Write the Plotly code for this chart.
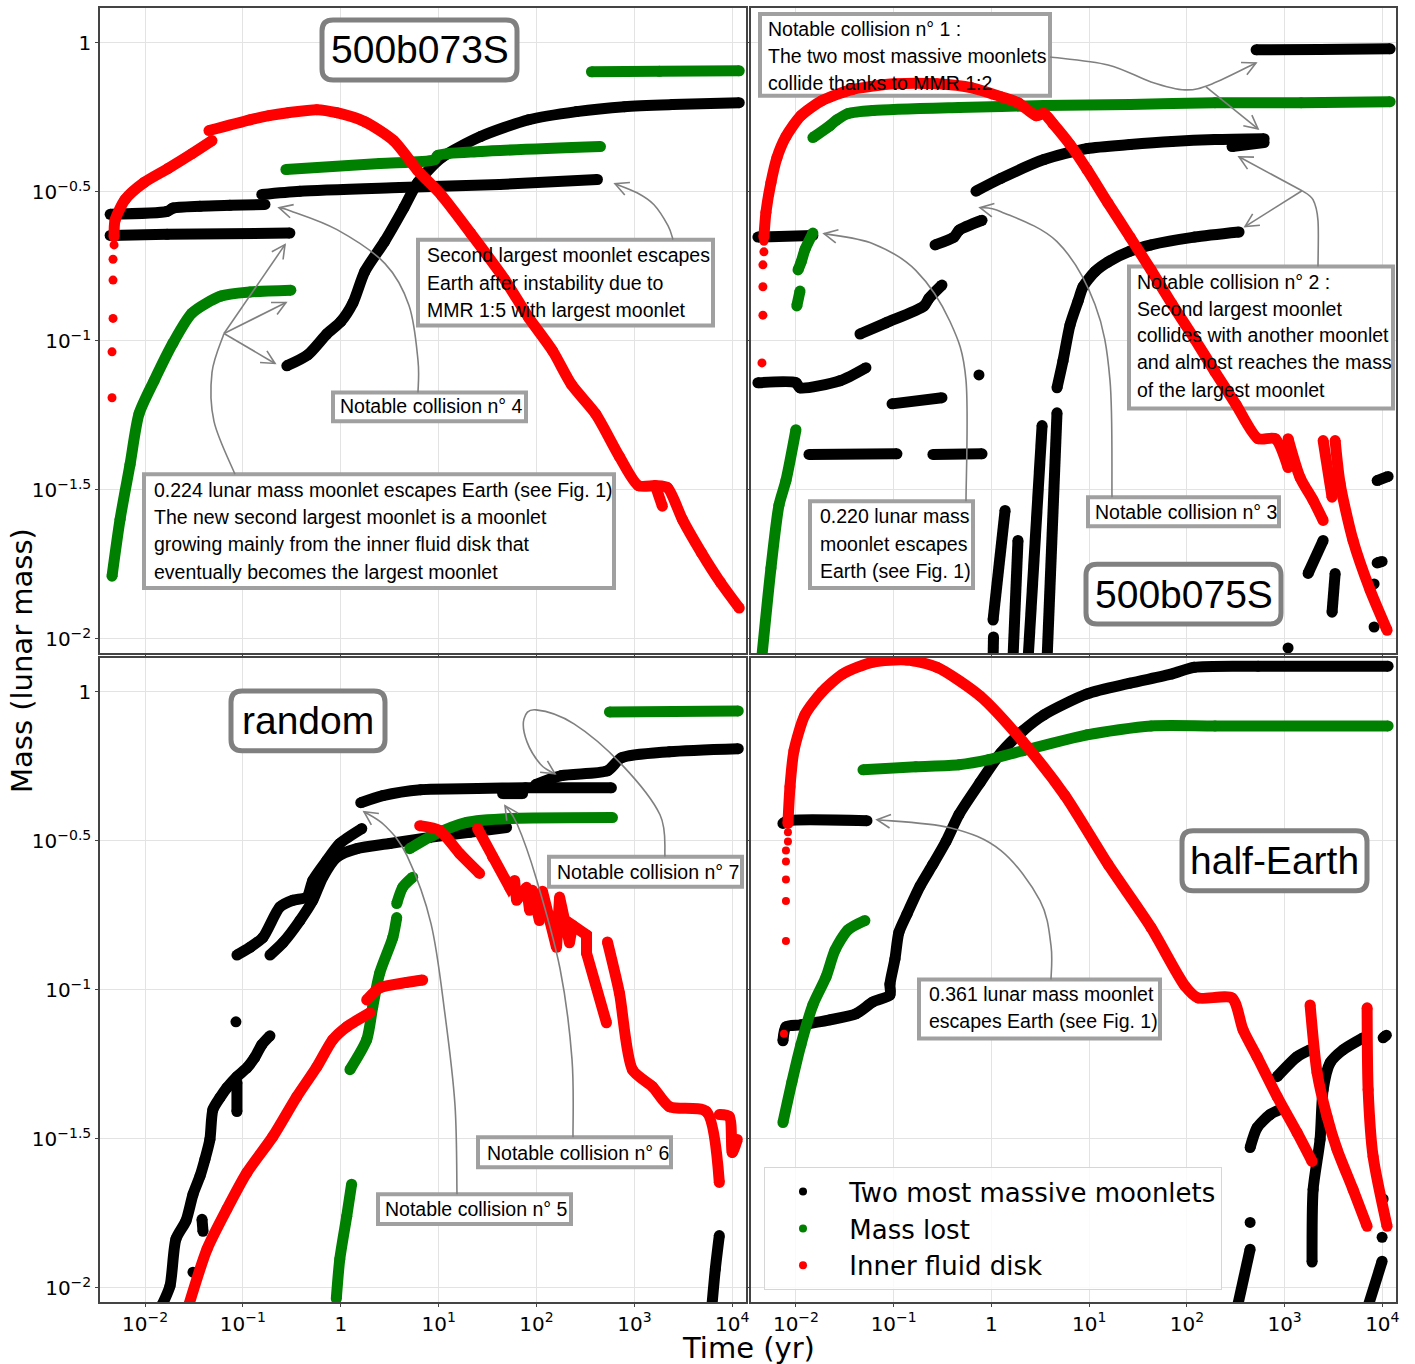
import math
import plotly.graph_objects as go

# ---------------- DATA (time in yr, mass in lunar masses) ----------------
# Panel 500b073S (top-left)
tl_black = [
    ([0.0044, 0.0168, 0.0193, 0.0364, 0.0736, 0.168], [0.266, 0.272, 0.279, 0.283, 0.285, 0.287]),
    ([0.0044, 0.0168, 0.302], [0.226, 0.228, 0.230]),
    ([0.156, 0.382, 4.0, 41.9, 419], [0.310, 0.318, 0.327, 0.335, 0.348]),
    ([0.281, 0.460, 0.720, 1.00, 1.33, 1.76, 2.81, 4.40, 6.11, 10.7, 26.8, 82.8, 256, 791, 2443, 11780],
     [0.0825, 0.0898, 0.1055, 0.116, 0.134, 0.171, 0.216, 0.279, 0.340, 0.412, 0.485, 0.552, 0.588, 0.611, 0.621, 0.630]),
]
tl_green = [
    ([0.0046, 0.00556, 0.00703, 0.00869, 0.01236, 0.0193, 0.0302, 0.0597, 0.118, 0.309],
     [0.01625, 0.0252, 0.0385, 0.0570, 0.0735, 0.0984, 0.124, 0.1415, 0.146, 0.148]),
    ([0.275, 2.50, 9.10, 9.77, 26.8, 450], [0.376, 0.394, 0.406, 0.419, 0.432, 0.449]),
    ([364, 1800, 11780], [0.800, 0.803, 0.806]),
]
tl_red_dots_t = [0.00483, 0.00471, 0.00471, 0.00471, 0.0046, 0.0046]
tl_red_dots_m = [0.210, 0.188, 0.160, 0.119, 0.0919, 0.0645]
tl_red = [
    ([0.00483, 0.00494, 0.00625, 0.00977, 0.0172, 0.0302, 0.0483], [0.224, 0.254, 0.298, 0.340, 0.379, 0.425, 0.470]),
    ([0.0450, 0.118, 0.184, 0.288, 0.569, 0.910, 1.76, 3.47, 6.11, 10.7, 21.2, 47.1, 82.8, 146, 228, 400, 703,
      1099, 1637, 2172, 3090, 4830, 7550, 11780],
     [0.508, 0.552, 0.570, 0.583, 0.597, 0.583, 0.544, 0.470, 0.373, 0.308, 0.230, 0.161, 0.120, 0.0926, 0.0713,
      0.0570, 0.0409, 0.0327, 0.0327, 0.0322, 0.0252, 0.0195, 0.0155, 0.0127]),
    ([1637, 1930], [0.0327, 0.0279]),
]

# Panel 500b075S (top-right)
tr_black = [
    ([511, 2307, 12020], [0.948, 0.950, 0.955]),
    ([0.695, 1.25, 3.45, 9.51, 26.2, 70.5, 194, 617], [0.318, 0.351, 0.406, 0.442, 0.456, 0.467, 0.474, 0.477]),
    ([290, 617], [0.449, 0.463]),
    ([4.69, 5.40, 6.37, 7.70, 8.66, 11.5, 15.6, 26.2, 43.0, 119, 342],
     [0.0696, 0.0857, 0.113, 0.136, 0.152, 0.171, 0.184, 0.200, 0.210, 0.223, 0.232]),
    ([1.38, 1.04], [0.0270, 0.01158]),
    ([1.05, 1.04], [0.01016, 0.0085]),
    ([1.87, 1.66], [0.0214, 0.0085]),
    ([3.30, 2.37], [0.0520, 0.0085]),
    ([4.69, 3.71], [0.0574, 0.0085]),
    ([0.00408, 0.0149], [0.223, 0.226]),
    ([0.265, 0.414, 0.466, 0.802], [0.210, 0.223, 0.235, 0.254]),
    ([0.0452, 0.0834, 0.204, 0.230, 0.312], [0.1055, 0.115, 0.131, 0.139, 0.154]),
    ([0.00408, 0.0100, 0.0110, 0.0282, 0.052], [0.0724, 0.0724, 0.0696, 0.0735, 0.0813]),
    ([0.746], [0.0769]),
    ([0.0962, 0.312], [0.0615, 0.0645]),
    ([0.0136, 0.108], [0.0416, 0.0418]),
    ([0.252, 0.802], [0.0416, 0.0418]),
    ([8850, 11460], [0.0340, 0.0351]),
    ([1740, 2480], [0.0166, 0.0214]),
    ([3060, 3290], [0.0123, 0.0166]),
    ([8850, 9950], [0.0180, 0.0182]),
    ([8240], [0.0153]),
    ([8240], [0.01097]),
    ([1086], [0.00933]),
]
tr_green = [
    ([0.00449, 0.00555, 0.00670, 0.0079, 0.0100], [0.0088, 0.0173, 0.0281, 0.0340, 0.0504]),
    ([0.0102, 0.0110], [0.131, 0.147]),
    ([0.0105, 0.0113, 0.0124, 0.0149], [0.173, 0.184, 0.203, 0.230]),
    ([0.0149, 0.0223, 0.0263, 0.034, 0.0614, 0.466, 3.45, 26.2, 194, 1476, 12020],
     [0.481, 0.528, 0.552, 0.579, 0.593, 0.607, 0.616, 0.621, 0.630, 0.630, 0.635]),
]
tr_red_dots_t = [0.00449, 0.00459, 0.00459, 0.00459, 0.0047, 0.0047]
tr_red_dots_m = [0.0844, 0.122, 0.152, 0.180, 0.199, 0.216]
tr_red = [
    ([0.0047, 0.00493, 0.00555, 0.00639, 0.0079, 0.01124, 0.01845, 0.0374, 0.103, 0.277, 0.632, 1.25, 1.87, 2.86,
      3.45, 4.27, 6.37, 9.51, 15.6, 26.2, 43.0, 70.5, 119, 194, 319, 535, 800, 1086],
     [0.223, 0.270, 0.340, 0.412, 0.485, 0.570, 0.640, 0.697, 0.729, 0.729, 0.707, 0.660, 0.630, 0.570, 0.579,
      0.536, 0.456, 0.376, 0.290, 0.223, 0.173, 0.133, 0.102, 0.0788, 0.0611, 0.0470, 0.0470, 0.0376]),
    ([1086, 1442, 1959, 2480], [0.0470, 0.0348, 0.0292, 0.0250]),
    ([2480, 3060], [0.0463, 0.0299]),
    ([3290, 3700, 5020, 7500, 11190], [0.0463, 0.0332, 0.0214, 0.0146, 0.0107]),
]

# Panel random (bottom-left)
bl_black = [
    ([1.60, 2.69, 6.55, 25.0, 77.2, 582], [0.425, 0.449, 0.470, 0.474, 0.477, 0.477]),
    ([45.0, 72.0], [0.456, 0.456]),
    ([97.7, 180, 530, 736, 2277, 11510], [0.489, 0.524, 0.544, 0.601, 0.630, 0.645]),
    ([0.0869, 0.118, 0.160, 0.239, 0.324, 0.450, 0.518, 0.720, 0.977, 1.64],
     [0.131, 0.139, 0.150, 0.190, 0.200, 0.205, 0.233, 0.272, 0.310, 0.348]),
    ([0.189, 0.256, 0.382, 0.518, 0.655, 0.910, 1.46, 3.16, 8.09, 20.7, 49.4],
     [0.131, 0.144, 0.171, 0.200, 0.239, 0.279, 0.298, 0.310, 0.325, 0.338, 0.351]),
    ([0.0150, 0.0180, 0.0207, 0.0262, 0.0309, 0.0364, 0.0409, 0.046, 0.0494, 0.0582, 0.0687, 0.0869, 0.110,
      0.132, 0.156, 0.189],
     [0.0088, 0.01016, 0.0146, 0.0168, 0.0206, 0.0237, 0.0270, 0.0315, 0.0397, 0.0435, 0.0470, 0.0512, 0.0548,
      0.0593, 0.0655, 0.0702]),
    ([0.0849], [0.0782]),
    ([0.0309], [0.0113]),
    ([0.0382, 0.0391], [0.0170, 0.0155]),
    ([0.0869, 0.0869], [0.0489, 0.0391]),
    ([6150, 6710, 7370], [0.0085, 0.0116, 0.0150]),
]
bl_green = [
    ([556, 2500, 11510], [0.857, 0.860, 0.864]),
    ([5.06, 8.69, 19.3, 53.0, 597], [0.298, 0.330, 0.365, 0.376, 0.379]),
    ([1.24, 1.84, 2.12, 2.50, 3.40, 3.73], [0.0540, 0.0681, 0.0877, 0.114, 0.150, 0.175]),
    ([3.73, 4.29, 5.43], [0.195, 0.221, 0.239]),
    ([0.900, 0.977, 1.15, 1.29], [0.0092, 0.0125, 0.0174, 0.0223]),
]
bl_red = [
    ([0.0281, 0.0430, 0.0687, 0.110, 0.202, 0.356, 0.569, 0.828, 1.15, 1.98],
     [0.0088, 0.0135, 0.0184, 0.0244, 0.0322, 0.0439, 0.0552, 0.0681, 0.0752, 0.0838]),
    ([1.84, 2.50, 4.71, 6.87], [0.0926, 0.1016, 0.106, 0.108]),
    ([6.40, 10.2, 16.4, 26.2], [0.356, 0.343, 0.287, 0.246]),
    ([530, 703, 955, 1528, 2277, 5430, 7370], [0.145, 0.0976, 0.0540, 0.0474, 0.0406, 0.0391, 0.0226]),
    ([7370, 9310, 10000, 11250], [0.0382, 0.0376, 0.0285, 0.0315]),
]
bl_red_jagged = [
    ([25.0, 35.6, 53.0, 59.7, 62.5, 79.1, 84.9, 91.0, 107, 115, 160, 172, 217, 233, 324, 324, 518],
     [0.348, 0.279, 0.221, 0.233, 0.200, 0.221, 0.185, 0.216, 0.171, 0.2145, 0.139, 0.205, 0.144, 0.165, 0.153,
      0.133, 0.0776]),
]

# Panel half-Earth (bottom-right)
br_black = [
    ([0.00736, 0.0079, 0.01124, 0.0223, 0.0411, 0.0614, 0.0916, 0.0916, 0.103, 0.113, 0.137, 0.186, 0.252, 0.343,
      0.466, 0.764, 1.25, 2.10, 3.45, 9.51, 26.2, 70.5, 119, 535, 11460],
     [0.0675, 0.0752, 0.0764, 0.0794, 0.0832, 0.0912, 0.0962, 0.1047, 0.127, 0.156, 0.180, 0.223, 0.264, 0.315,
      0.388, 0.496, 0.625, 0.741, 0.838, 0.985, 1.07, 1.15, 1.21, 1.22, 1.22]),
    ([0.00736, 0.00828, 0.0533], [0.362, 0.370, 0.370]),
    ([838, 1343, 1824], [0.0512, 0.0597, 0.0630]),
    ([444, 523, 711, 899], [0.0296, 0.0345, 0.0382, 0.0397]),
    ([1910, 1959, 2307, 2480, 2923, 3970, 6360], [0.01222, 0.0214, 0.0315, 0.0463, 0.0570, 0.0630, 0.0691]),
    ([10190, 11000], [0.0691, 0.0705]),
    ([444], [0.0166]),
    ([325, 444], [0.0085, 0.0135]),
    ([7000, 9950], [0.0085, 0.0123]),
    ([9950], [0.0148]),
    ([10190], [0.0199]),
]
br_green = [
    ([0.0485, 0.169, 0.466, 0.944, 2.10, 9.51, 43.0, 194, 11460],
     [0.548, 0.561, 0.570, 0.593, 0.635, 0.718, 0.769, 0.769, 0.769]),
    ([0.00736, 0.0091, 0.01124, 0.0149, 0.0203, 0.0251, 0.034, 0.0508],
     [0.0359, 0.0492, 0.0655, 0.0891, 0.1105, 0.136, 0.159, 0.171]),
]
br_red_dots_t = [0.0079, 0.0079, 0.0079, 0.0079, 0.0079, 0.00828, 0.00828, 0.00754]
br_red_dots_m = [0.146, 0.199, 0.235, 0.270, 0.294, 0.315, 0.338, 0.0713]
br_red = [
    ([0.00828, 0.00869, 0.00954, 0.01236, 0.01845, 0.0303, 0.0614, 0.137, 0.277, 0.764, 2.10, 5.66, 15.6, 43.0,
      95.9, 130, 290, 376, 523, 838, 1343, 1910],
     [0.362, 0.481, 0.635, 0.838, 1.0, 1.15, 1.26, 1.28, 1.21, 0.970, 0.681, 0.449, 0.264, 0.162, 0.103, 0.0940,
      0.0940, 0.0735, 0.0597, 0.0439, 0.0332, 0.0266]),
    ([1824, 2150, 2720, 3440, 5020, 6990], [0.0891, 0.0528, 0.0376, 0.0292, 0.0214, 0.0161]),
    ([6990, 7160, 8050, 11190], [0.0871, 0.0463, 0.0276, 0.0161]),
]

x_tickvals = [1e-2, 1e-1, 1, 1e1, 1e2, 1e3, 1e4]
x_ticktext = ['10<sup>−2</sup>', '10<sup>−1</sup>', '1', '10<sup>1</sup>', '10<sup>2</sup>', '10<sup>3</sup>', '10<sup>4</sup>']
y_tickvals = [0.01, 0.0316228, 0.1, 0.316228, 1]
y_ticktext = ['10<sup>−2</sup>', '10<sup>−1.5</sup>', '10<sup>−1</sup>', '10<sup>−0.5</sup>', '1']
legend_names = ['Two most massive moonlets', 'Mass lost', 'Inner fluid disk']

# ---------------- LAYOUT GEOMETRY ----------------
W, H = 1415, 1364
ML, MR, MT, MB = 100, 19, 6, 62
PW, PH = W - ML - MR, H - MT - MB
XR = [-2.46, 4.14]
PANELS = {
    'tl': dict(x0=100, x1=746, y0=6, y1=652, xa='x', ya='y', yr=[-2.047, 0.117]),
    'tr': dict(x0=751, x1=1396, y0=6, y1=652, xa='x2', ya='y2', yr=[-2.047, 0.117]),
    'bl': dict(x0=100, x1=746, y0=657, y1=1302, xa='x3', ya='y3', yr=[-2.047, 0.114]),
    'br': dict(x0=751, x1=1396, y0=657, y1=1302, xa='x4', ya='y4', yr=[-2.047, 0.114]),
}

BLACK, GREEN, RED = '#000000', '#008000', '#ff0000'
GRAYBOX, GRAYTITLE, GRAYARROW = '#a0a0a0', '#808080', '#808080'
LW = 11


def seg_xy(segs):
    xs, ys = [], []
    for tt, mm in segs:
        xs += list(tt) + [None]
        ys += list(mm) + [None]
    return xs, ys


fig = go.Figure()


def add_series(panel, segs, color, shape='spline'):
    P = PANELS[panel]
    xs, ys = seg_xy(segs)
    line = dict(color=color, width=LW, shape=shape)
    if shape == 'spline':
        line['smoothing'] = 0.7
    fig.add_trace(go.Scatter(x=xs, y=ys, mode='lines+markers', connectgaps=False,
                             line=line, marker=dict(color=color, size=LW),
                             xaxis=P['xa'], yaxis=P['ya'], showlegend=False, hoverinfo='skip'))


def add_dots(panel, tt, mm, color, size=9):
    P = PANELS[panel]
    fig.add_trace(go.Scatter(x=tt, y=mm, mode='markers', marker=dict(color=color, size=size),
                             xaxis=P['xa'], yaxis=P['ya'], showlegend=False, hoverinfo='skip'))


add_series('tl', tl_black, BLACK)
add_series('tl', tl_green, GREEN)
add_dots('tl', tl_red_dots_t, tl_red_dots_m, RED)
add_series('tl', tl_red, RED)

add_series('tr', tr_black, BLACK)
add_series('tr', tr_green, GREEN)
add_dots('tr', tr_red_dots_t, tr_red_dots_m, RED)
add_series('tr', tr_red, RED)

add_series('bl', bl_black, BLACK)
add_series('bl', bl_green, GREEN)
add_series('bl', bl_red, RED)
add_series('bl', bl_red_jagged, RED, shape='linear')

add_series('br', br_black, BLACK)
add_series('br', br_green, GREEN)
add_dots('br', br_red_dots_t, br_red_dots_m, RED, size=8)
add_series('br', br_red, RED)

for name, color in zip(legend_names, [BLACK, GREEN, RED]):
    fig.add_trace(go.Scatter(x=[None], y=[None], mode='markers', marker=dict(color=color, size=8),
                             name='\u00a0' + name, xaxis='x4', yaxis='y4', showlegend=True, hoverinfo='skip'))

# ---------------- AXES ----------------
tickfont = dict(family='DejaVu Sans', size=20, color='black')
common = dict(type='log', showline=True, linecolor='#444444', linewidth=1.5, mirror=True,
              showgrid=True, gridcolor='#e3e3e3', gridwidth=1, zeroline=False,
              ticks='outside', ticklen=3, tickcolor='#444444', tickfont=tickfont)

layout_axes = {}
for i, p in enumerate(['tl', 'tr', 'bl', 'br']):
    Pn = PANELS[p]
    sfx = '' if i == 0 else str(i + 1)
    bottom = p in ('bl', 'br')
    left = p in ('tl', 'bl')
    layout_axes['xaxis' + sfx] = dict(common, domain=[(Pn['x0'] - ML) / PW, (Pn['x1'] - ML) / PW],
                                      anchor='y' + sfx, range=XR,
                                      tickvals=x_tickvals, ticktext=x_ticktext, showticklabels=bottom)
    layout_axes['yaxis' + sfx] = dict(common, domain=[(MT + PH - Pn['y1']) / PH, (MT + PH - Pn['y0']) / PH],
                                      anchor='x' + sfx, range=Pn['yr'],
                                      tickvals=y_tickvals, ticktext=y_ticktext, showticklabels=left)

# ---------------- SHAPES & ANNOTATIONS ----------------
shapes, annotations = [], []


def to_data(p, px, py):
    Pn = PANELS[p]
    fx = (px - Pn['x0']) / (Pn['x1'] - Pn['x0'])
    fy = (Pn['y1'] - py) / (Pn['y1'] - Pn['y0'])
    lx = XR[0] + fx * (XR[1] - XR[0])
    ly = Pn['yr'][0] + fy * (Pn['yr'][1] - Pn['yr'][0])
    return 10 ** lx, 10 ** ly


def paper(px, py):
    return (px - ML) / PW, (MT + PH - py) / PH


def text_box(p, x0, y0, x1, y1):
    Pn = PANELS[p]
    a, b = to_data(p, x0, y1)
    c, d = to_data(p, x1, y0)
    shapes.append(dict(type='rect', xref=Pn['xa'], yref=Pn['ya'], x0=a, y0=b, x1=c, y1=d,
                       line=dict(color=GRAYBOX, width=4), fillcolor='white', layer='between'))


def text_lines(x, ys, lines, size=19.5):
    for yy, s in zip(ys, lines):
        px, py = paper(x, yy)
        annotations.append(dict(text=s, x=px, y=py, xref='paper', yref='paper', xanchor='left',
                                yanchor='middle', showarrow=False,
                                font=dict(family='Liberation Sans', size=size, color='black')))


def title_box(p, x0, y0, x1, y1, label, r=11):
    Pn = PANELS[p]

    def D(x, y):
        u, v = to_data(p, x, y)
        return f'{u:.6g},{v:.6g}'
    path = (f'M {D(x0 + r, y0)} L {D(x1 - r, y0)} Q {D(x1, y0)} {D(x1, y0 + r)} '
            f'L {D(x1, y1 - r)} Q {D(x1, y1)} {D(x1 - r, y1)} L {D(x0 + r, y1)} '
            f'Q {D(x0, y1)} {D(x0, y1 - r)} L {D(x0, y0 + r)} Q {D(x0, y0)} {D(x0 + r, y0)} Z')
    shapes.append(dict(type='path', path=path, xref=Pn['xa'], yref=Pn['ya'],
                       line=dict(color=GRAYTITLE, width=5), fillcolor='white', layer='between'))
    cx, cy = paper((x0 + x1) / 2, (y0 + y1) / 2)
    annotations.append(dict(text=label, x=cx, y=cy, xref='paper', yref='paper', xanchor='center',
                            yanchor='middle', showarrow=False,
                            font=dict(family='Liberation Sans', size=39, color='black')))


def P(x, y):
    u, v = paper(x, y)
    return f'{u:.5f},{v:.5f}'


def arrowhead(frm, tip, L=15, ang=27):
    dx, dy = tip[0] - frm[0], tip[1] - frm[1]
    n = math.hypot(dx, dy)
    dx, dy = dx / n, dy / n
    pts = []
    for s in (1, -1):
        a = math.radians(ang) * s
        rx = dx * math.cos(a) - dy * math.sin(a)
        ry = dx * math.sin(a) + dy * math.cos(a)
        pts.append((tip[0] - L * rx, tip[1] - L * ry))
    path = f'M {P(*pts[0])} L {P(*tip)} L {P(*pts[1])}'
    shapes.append(dict(type='path', path=path, xref='paper', yref='paper',
                       line=dict(color=GRAYARROW, width=1.6), layer='above'))


def curve(pts, head=True):
    n = len(pts)
    ext = [pts[0]] + list(pts) + [pts[-1]]
    path = f'M {P(*pts[0])}'
    last_c2 = pts[-2]
    for i in range(n - 1):
        p0, p1, p2, p3 = ext[i], ext[i + 1], ext[i + 2], ext[i + 3]
        c1 = (p1[0] + (p2[0] - p0[0]) / 6, p1[1] + (p2[1] - p0[1]) / 6)
        c2 = (p2[0] - (p3[0] - p1[0]) / 6, p2[1] - (p3[1] - p1[1]) / 6)
        path += f' C {P(*c1)} {P(*c2)} {P(*p2)}'
        last_c2 = c2
    shapes.append(dict(type='path', path=path, xref='paper', yref='paper',
                       line=dict(color=GRAYARROW, width=1.6), layer='above'))
    if head:
        frm = last_c2 if math.hypot(last_c2[0] - pts[-1][0], last_c2[1] - pts[-1][1]) > 1 else pts[-2]
        arrowhead(frm, pts[-1])


def straight(frm, tip):
    shapes.append(dict(type='path', path=f'M {P(*frm)} L {P(*tip)}', xref='paper', yref='paper',
                       line=dict(color=GRAYARROW, width=1.6), layer='above'))
    arrowhead(frm, tip)


# Top-left
title_box('tl', 322, 18, 517, 78, '500b073S')
text_box('tl', 418, 238, 713, 324)
text_lines(425, [253, 281, 308], ['Second largest moonlet escapes', 'Earth after instability due to',
                                  'MMR 1:5 with largest moonlet'])
text_box('tl', 333, 391, 526, 420)
text_lines(338, [405], ['Notable collision n° 4'])
text_box('tl', 144, 473, 614, 587)
text_lines(152, [489, 516, 543, 571], ['0.224 lunar mass moonlet escapes Earth (see Fig. 1)',
                                       'The new second largest moonlet is a moonlet',
                                       'growing mainly from the inner fluid disk that',
                                       'eventually becomes the largest moonlet'])
curve([(673, 238), (668, 224), (654, 203), (637, 191), (615, 182)])
curve([(418, 391), (418, 359), (409, 304), (385, 262), (337, 228), (290, 209), (279, 206)])
curve([(235, 473), (214, 420), (212, 371), (224, 332)], head=False)
straight((224, 332), (285, 243))
straight((224, 332), (286, 301))
straight((224, 332), (275, 362))

# Top-right
title_box('tr', 1086, 563, 1281, 623, '500b075S')
text_box('tr', 760, 12, 1050, 94)
text_lines(766, [27, 54, 81], ['Notable collision n° 1 :', 'The two most massive moonlets',
                               'collide thanks to MMR 1:2'])
text_box('tr', 1129, 265, 1393, 407)
text_lines(1135, [280, 307, 334, 361, 389], ['Notable collision n° 2 :', 'Second largest moonlet',
                                             'collides with another moonlet', 'and almost reaches the mass',
                                             'of the largest moonlet'])
text_box('tr', 810, 500, 973, 587)
text_lines(818, [515, 543, 570], ['0.220 lunar mass', 'moonlet escapes', 'Earth (see Fig. 1)'])
text_box('tr', 1088, 496, 1279, 525)
text_lines(1093, [511], ['Notable collision n° 3'])
curve([(1050, 55), (1108, 63), (1151, 80), (1185, 88), (1212, 82), (1256, 61)])
straight((1206, 85), (1258, 127))
curve([(1318, 265), (1318, 219), (1313, 198), (1302, 189)], head=False)
straight((1302, 189), (1239, 155))
straight((1302, 189), (1245, 225))
curve([(966, 500), (966, 379), (950, 320), (916, 269), (873, 242), (824, 232)])
curve([(1112, 496), (1110, 379), (1095, 303), (1057, 240), (1001, 210), (980, 206)])

# Bottom-left
title_box('bl', 231, 690, 385, 750, 'random')
text_box('bl', 549, 856, 742, 886)
text_lines(555, [871], ['Notable collision n° 7'])
text_box('bl', 478, 1137, 671, 1167)
text_lines(485, [1153], ['Notable collision n° 6'])
text_box('bl', 378, 1194, 571, 1224)
text_lines(383, [1209], ['Notable collision n° 5'])
curve([(665, 856), (660, 814), (622, 764), (574, 723), (536, 709), (524, 718), (527, 741), (541, 764), (555, 773)])
curve([(573, 1137), (572, 1059), (560, 968), (536, 877), (517, 823), (505, 805)])
curve([(457, 1194), (455, 1105), (445, 1014), (431, 923), (407, 855), (385, 825), (364, 811)])

# Bottom-right
title_box('br', 1182, 830, 1367, 890, 'half-Earth')
text_box('br', 919, 979, 1160, 1038)
text_lines(927, [994, 1021], ['0.361 lunar mass moonlet', 'escapes Earth (see Fig. 1)'])
curve([(1051, 979), (1051, 945), (1040, 900), (1001, 850), (950, 827), (877, 819)])

# Axis titles
ax, ay = paper(22, 660)
annotations.append(dict(text='Mass (lunar mass)', x=ax, y=ay, xref='paper', yref='paper', textangle=-90,
                        showarrow=False, xanchor='center', yanchor='middle',
                        font=dict(family='DejaVu Sans', size=29, color='black')))
bx, by = paper(748, 1348)
annotations.append(dict(text='Time (yr)', x=bx, y=by, xref='paper', yref='paper', showarrow=False,
                        xanchor='center', yanchor='middle',
                        font=dict(family='DejaVu Sans', size=29, color='black')))

lx, ly = paper(764, 1167)
fig.update_layout(
    width=W, height=H, margin=dict(l=ML, r=MR, t=MT, b=MB),
    paper_bgcolor='white', plot_bgcolor='white',
    shapes=shapes, annotations=annotations,
    legend=dict(x=lx, y=ly, xanchor='left', yanchor='top', bgcolor='rgba(255,255,255,0.8)',
                bordercolor='#d6d6d6', borderwidth=1, itemwidth=66,
                font=dict(family='DejaVu Sans', size=26, color='black'), tracegroupgap=0),
    **layout_axes,
)

fig.write_html('out.html', config={'displayModeBar': False},
               post_script="document.body.style.margin='0px';document.body.style.overflow='hidden';")
